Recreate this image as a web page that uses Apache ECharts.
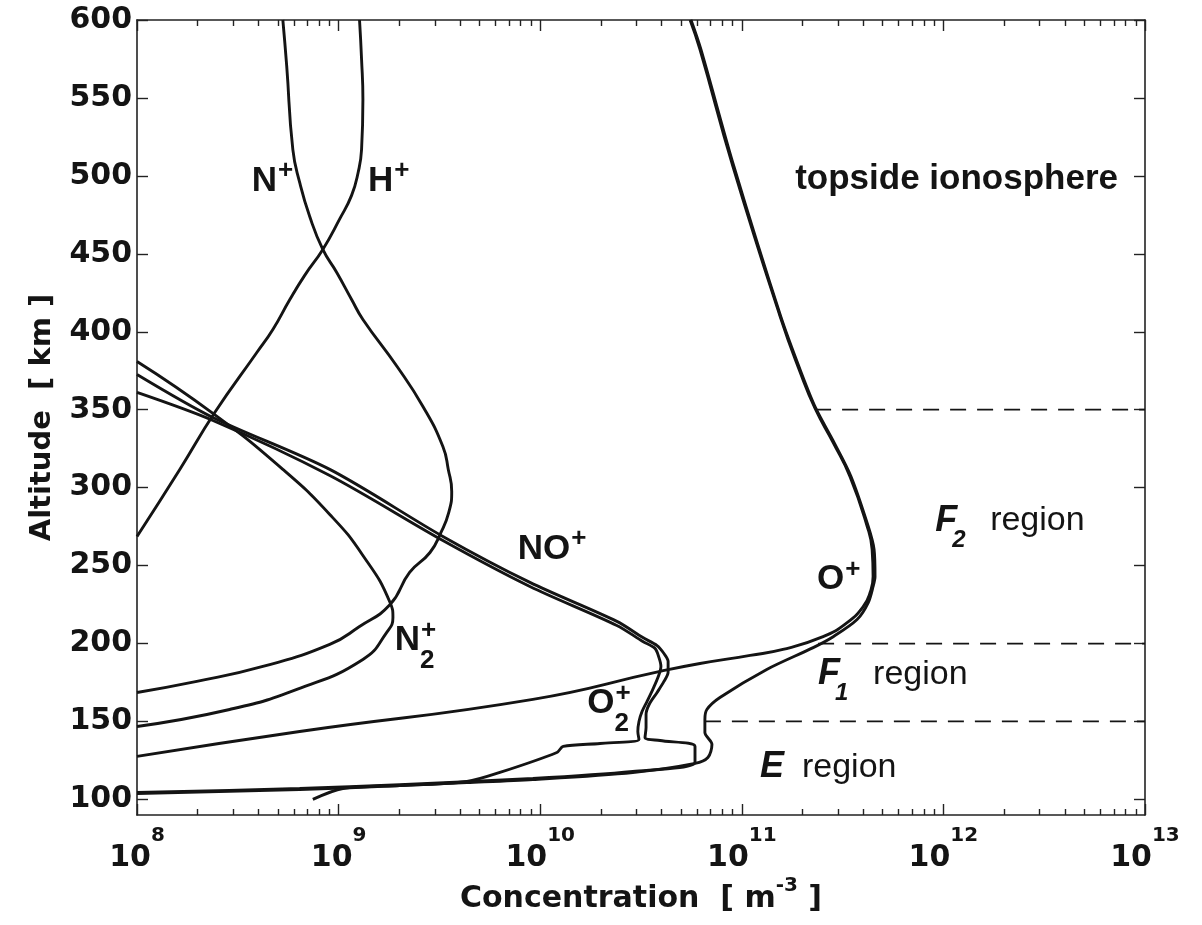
<!DOCTYPE html>
<html>
<head>
<meta charset="utf-8">
<script src="https://cdn.jsdelivr.net/npm/echarts@6/dist/echarts.min.js"></script>
<style>
html,body{margin:0;padding:0;background:#fff;}
#c{width:1202px;height:925px;}
</style>
</head>
<body>
<div id="c"></div>
<script>
// ---------------- data (concentration [m^-3], altitude [km]) ----------------
const X_MAJOR = [1e8, 1e9, 1e10, 1e11, 1e12, 1e13];
const X_TICK_EXP = ['8', '9', '10', '11', '12', '13'];
const X_MINOR_MANTISSA = [2, 3, 4, 5, 6, 7, 8, 9];
const X_DECADES = [1e8, 1e9, 1e10, 1e11, 1e12];
const Y_TICKS = [100, 150, 200, 250, 300, 350, 400, 450, 500, 550, 600];

const H_PLUS = [
  [1.27e9,600],[1.30e9,574.7],[1.32e9,549.0],[1.30e9,516.9],[1.25e9,502.2],[1.16e9,487.5],
  [1.01e9,472.1],[8.35e8,452.8],[6.79e8,436.2],[5.73e8,420.7],[4.72e8,401.5],[3.93e8,386.7],
  [2.43e8,348.2],[1.63e8,311.7],[1.0e8,268.7]
];
const N_PLUS = [
  [5.29e8,600],[5.53e8,570.2],[5.93e8,516.9],[6.41e8,495.8],[7.19e8,473.9],[8.35e8,452.8],
  [9.79e8,438.0],[1.16e9,420.7],[1.32e9,407.9],[1.95e9,377.7],[2.62e9,352.1],[3.29e9,326.4],
  [3.50e9,311.7],[3.64e9,297.6],[3.52e9,284.1],[3.22e9,271.3],[2.84e9,258.4],[2.25e9,245.6],
  [1.80e9,225.0],[1.27e9,210.9],[9.04e8,199.4],[4.21e8,185.3],[1.98e8,175.7],[1.0e8,168.6]
];
const N2_PLUS = [
  [1.0e8,380.9],[2.38e8,347.6],[5.29e8,311.7],[9.04e8,282.8],[1.32e9,256.5],[1.80e9,226.3],
  [1.86e9,216.7],[1.73e9,207.0],[1.32e9,189.8],[6.21e8,170.6],[2.88e8,157.7],[1.0e8,146.8]
];
const NO_PLUS_A = [
  [1.0e8,372.6],[2.38e8,345.0],[9.04e8,311.7],[3.29e9,268.7],[8.89e9,239.2],[2.40e10,214.2],
  [3.23e10,203.8],[3.80e10,198.7],[4.11e10,193.6],[4.31e10,188.5],[4.31e10,181.5],[4.11e10,175.7],
  [3.80e10,168.6],[3.47e10,160.9],[3.35e10,154.5],[3.35e10,146.2],[3.31e10,139.7],[3.93e10,137.8],
  [5.86e10,134.0],[5.86e10,123.7],[2.88e10,117.9],[9.20e9,113.4],[2.01e9,109.5],[6.41e8,107.0],
  [1.0e8,104.4]
];
const NO_PLUS_B = [
  [1.0e8,361.1],[2.38e8,343.1],[9.04e8,307.8],[3.29e9,266.1],[8.89e9,236.6],[2.40e10,211.6],
  [3.23e10,201.3],[3.71e10,196.9],[3.88e10,191.1],[3.97e10,185.3],[3.84e10,178.3],[3.62e10,170.6],
  [3.39e10,162.9],[3.20e10,156.4],[3.09e10,150.0],[3.05e10,143.6],[3.09e10,138.5],[1.98e10,135.9],
  [1.30e10,134.0],[1.21e10,130.1],[6.31e9,117.3],[4.33e9,111.5],[2.01e9,108.9],[6.41e8,106.3],
  [1.0e8,103.8]
];
const O_PLUS_A = [
  [5.54e10,600],[6.20e10,581.1],[9.04e10,506.0],[1.55e11,409.8],[1.95e11,373.9],[2.31e11,350.8],
  [2.84e11,328.9],[3.44e11,307.2],[4.19e11,275.1],[4.43e11,260.4],[4.48e11,243.0],[4.33e11,232.7],
  [4.00e11,223.7],[3.33e11,213.4],[2.53e11,204.4],[1.60e11,196.2],[1.10e11,192.4],[6.20e10,187.2],
  [3.93e10,182.1],[9.20e9,164.2],[6.41e8,143.6],[1.0e8,127.6]
];
const O_PLUS_B = [
  [5.60e10,600],[6.27e10,581.1],[9.14e10,506.0],[1.56e11,409.8],[1.97e11,373.9],[2.33e11,350.8],
  [2.87e11,328.9],[3.48e11,307.2],[4.24e11,275.1],[4.53e11,260.4],[4.58e11,243.0],[4.48e11,236.6],
  [4.24e11,226.3],[3.73e11,215.4],[2.84e11,204.4],[2.26e11,197.4],[1.33e11,183.4],[7.79e10,165.4],
  [6.71e10,157.7],[6.56e10,151.3],[6.56e10,142.9],[7.11e10,135.3],[6.79e10,126.9],[5.86e10,123.1],
  [2.88e10,117.3],[9.20e9,112.8],[4.33e9,110.8],[2.01e9,108.9],[1.05e9,107.0],[7.45e8,100.0]
];
// region boundaries: [start concentration, altitude]
const REGION_BOUNDS = [[2.31e11, 350], [2.39e11, 200], [6.56e10, 150]];

// ion labels
const ION_NAME = ['N', 'H', 'NO', 'O', 'N', 'O'];
const ION_SUP  = ['+', '+', '+', '+', '+', '+'];
const ION_SUB  = ['', '', '', '', '2', '2'];
const ION_CONC = [3.71e8, 1.40e9, 7.74e9, 2.36e11, 1.90e9, 1.71e10];
const ION_ALT  = [496.7, 496.7, 260.7, 241.1, 202.0, 161.6];

// layer labels
const LAYER_LETTER = ['F', 'F', 'E'];
const LAYER_SUB    = ['2', '1', ''];
const LAYER_WORD   = ['region', 'region', 'region'];
const LAYER_CONC   = [9.10e11, 2.39e11, 1.23e11];
const LAYER_ALT    = [278.6, 180.2, 120.5];

const TOP_TEXT = ['topside ionosphere'];
const TOP_CONC = [1.84e11];
const TOP_ALT  = [497.7];

// ---------------- chart ----------------
const FONT = '"Liberation Sans", Arial, Helvetica, sans-serif';
const AXFONT = '"DejaVu Sans", "Liberation Sans", Arial, sans-serif';
const INK = '#141414';
const X_MINOR = [];
X_DECADES.forEach(d => X_MINOR_MANTISSA.forEach(m => X_MINOR.push(m * d)));

const measureCtx = document.createElement('canvas').getContext('2d');
function textWidth(t, weight, style, size, family) {
  measureCtx.font = style + ' ' + weight + ' ' + size + 'px ' + (family || FONT);
  return measureCtx.measureText(t).width;
}
function txt(x, y, text, size, weight, style, align, family) {
  return {
    type: 'text', x: x, y: y,
    style: {
      text: text, fontSize: size, fontWeight: weight, fontStyle: style || 'normal',
      fontFamily: family || FONT, fill: INK, align: align || 'left', verticalAlign: 'middle'
    }
  };
}

const axisLine = { show: true, onZero: false, lineStyle: { color: '#222', width: 1.6 } };
const tickStyle = { color: '#222', width: 1.4 };

function curve(data, smooth) {
  return {
    type: 'line', data: data, xAxisIndex: 0, yAxisIndex: 0,
    showSymbol: false, symbol: 'none', smooth: smooth, clip: true,
    lineStyle: { color: INK, width: 2.9 }, silent: true, z: 3
  };
}

const series = [
  curve(H_PLUS, 0.5), curve(N_PLUS, 0.5), curve(N2_PLUS, 0.5),
  curve(NO_PLUS_A, 0.3), curve(NO_PLUS_B, 0.3),
  curve(O_PLUS_A, 0.5), curve(O_PLUS_B, 0.3)
];
REGION_BOUNDS.forEach(b => {
  series.push({
    type: 'line', data: [[b[0], b[1]], [1e13, b[1]]], xAxisIndex: 0, yAxisIndex: 0,
    showSymbol: false, symbol: 'none', silent: true, z: 2,
    lineStyle: { color: INK, width: 1.8, type: [16, 11] }
  });
});

// x tick labels 10^n
series.push({
  type: 'custom', coordinateSystem: 'cartesian2d', xAxisIndex: 0, yAxisIndex: 0,
  silent: true, z: 10, clip: false, encode: { x: 0, y: 1 },
  data: X_MAJOR.map((v, i) => [v, 90, i]),
  renderItem: function (params, api) {
    const i = api.value(2);
    const p = api.coord([api.value(0), api.value(1)]);
    const wb = textWidth('10', 'bold', 'normal', 30, AXFONT);
    const ws = textWidth(X_TICK_EXP[i], 'bold', 'normal', 20, AXFONT);
    const left = p[0] - (wb + ws) / 2;
    return {
      type: 'group',
      children: [
        txt(left, p[1] + 43, '10', 30, 'bold', 'normal', 'left', AXFONT),
        txt(left + wb, p[1] + 21, X_TICK_EXP[i], 20, 'bold', 'normal', 'left', AXFONT)
      ]
    };
  }
});

series.push({
  type: 'custom', coordinateSystem: 'cartesian2d', xAxisIndex: 0, yAxisIndex: 0,
  silent: true, z: 10, encode: { x: 0, y: 1 },
  data: ION_CONC.map((c, i) => [c, ION_ALT[i], i]),
  renderItem: function (params, api) {
    const i = api.value(2);
    const p = api.coord([api.value(0), api.value(1)]);
    const w = textWidth(ION_NAME[i], 'bold', 'normal', 35);
    const kids = [txt(p[0], p[1], ION_NAME[i], 35, 'bold')];
    if (ION_SUP[i]) kids.push(txt(p[0] + w + 1, p[1] - 10, ION_SUP[i], 26, 'bold'));
    if (ION_SUB[i]) kids.push(txt(p[0] + w, p[1] + 20, ION_SUB[i], 26, 'bold'));
    return { type: 'group', children: kids };
  }
});
series.push({
  type: 'custom', coordinateSystem: 'cartesian2d', xAxisIndex: 0, yAxisIndex: 0,
  silent: true, z: 10, encode: { x: 0, y: 1 },
  data: LAYER_CONC.map((c, i) => [c, LAYER_ALT[i], i]),
  renderItem: function (params, api) {
    const i = api.value(2);
    const p = api.coord([api.value(0), api.value(1)]);
    const w = textWidth(LAYER_LETTER[i], 'bold', 'italic', 36);
    const kids = [txt(p[0], p[1], LAYER_LETTER[i], 36, 'bold', 'italic')];
    let gap = w + 18;
    if (LAYER_SUB[i]) {
      kids.push(txt(p[0] + w - 5, p[1] + 19, LAYER_SUB[i], 24, 'bold', 'italic'));
      gap = w + 33;
    }
    kids.push(txt(p[0] + gap, p[1], LAYER_WORD[i], 34, 'normal'));
    return { type: 'group', children: kids };
  }
});
series.push({
  type: 'custom', coordinateSystem: 'cartesian2d', xAxisIndex: 0, yAxisIndex: 0,
  silent: true, z: 10, encode: { x: 0, y: 1 },
  data: TOP_CONC.map((c, i) => [c, TOP_ALT[i], i]),
  renderItem: function (params, api) {
    const i = api.value(2);
    const p = api.coord([api.value(0), api.value(1)]);
    return txt(p[0], p[1], TOP_TEXT[i], 35, 'bold');
  }
});

const xBase = { type: 'log', logBase: 10, min: 1e8, max: 1e13, gridIndex: 0, splitLine: { show: false } };

const option = {
  animation: false,
  backgroundColor: '#fff',
  textStyle: { fontFamily: FONT },
  grid: { left: 137, right: 57, top: 20, bottom: 110, containLabel: false },
  xAxis: [
    Object.assign({}, xBase, {
      position: 'bottom',
      axisLine: axisLine,
      axisTick: { show: true, inside: true, length: 11, lineStyle: tickStyle, customValues: X_MAJOR },
      axisLabel: { show: false },
      name: '{t|Concentration  [ m}{s|-3}{t| ]}',
      nameLocation: 'middle', nameGap: 61, nameMoveOverlap: false,
      nameTextStyle: {
        rich: {
          t: { fontSize: 30, fontWeight: 'bold', fontFamily: AXFONT, color: INK, lineHeight: 46 },
          s: { fontSize: 20, fontWeight: 'bold', fontFamily: AXFONT, color: INK, lineHeight: 20, verticalAlign: 'top' }
        }
      }
    }),
    Object.assign({}, xBase, {
      position: 'top',
      axisLine: axisLine,
      axisTick: { show: true, inside: true, length: 11, lineStyle: tickStyle, customValues: X_MAJOR },
      axisLabel: { show: false }
    }),
    Object.assign({}, xBase, {
      position: 'bottom',
      axisLine: { show: false },
      axisTick: { show: true, inside: true, length: 6, lineStyle: tickStyle, customValues: X_MINOR },
      axisLabel: { show: false }
    }),
    Object.assign({}, xBase, {
      position: 'top',
      axisLine: { show: false },
      axisTick: { show: true, inside: true, length: 6, lineStyle: tickStyle, customValues: X_MINOR },
      axisLabel: { show: false }
    })
  ],
  yAxis: [
    {
      type: 'value', min: 90, max: 600, position: 'left', gridIndex: 0,
      axisLine: axisLine, splitLine: { show: false },
      axisTick: { show: true, inside: true, length: 11, lineStyle: tickStyle, customValues: Y_TICKS },
      axisLabel: {
        show: true, margin: 5, customValues: Y_TICKS,
        fontSize: 30, fontWeight: 'bold', fontFamily: AXFONT, color: INK
      },
      name: 'Altitude  [ km ]', nameLocation: 'middle', nameGap: 80, nameRotate: 90,
      nameTextStyle: { fontSize: 29, fontWeight: 'bold', fontFamily: AXFONT, color: INK }
    },
    {
      type: 'value', min: 90, max: 600, position: 'right', gridIndex: 0,
      axisLine: axisLine, splitLine: { show: false },
      axisTick: { show: true, inside: true, length: 11, lineStyle: tickStyle, customValues: Y_TICKS },
      axisLabel: { show: false }
    }
  ],
  series: series
};

const chart = echarts.init(document.getElementById('c'), null, { renderer: 'canvas' });
chart.setOption(option);
</script>
</body>
</html>
